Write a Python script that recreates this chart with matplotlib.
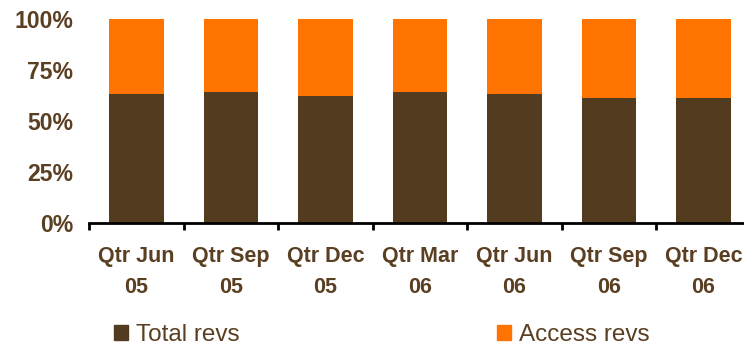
import matplotlib.pyplot as plt
from matplotlib.patches import Patch

# Share of revenue by quarter (%)
quarters = ["Qtr Jun\n05", "Qtr Sep\n05", "Qtr Dec\n05", "Qtr Mar\n06",
            "Qtr Jun\n06", "Qtr Sep\n06", "Qtr Dec\n06"]
total_revs = [63, 64, 62, 64, 63, 61, 61]
access_revs = [100 - v for v in total_revs]

brown = "#533b1f"
orange = "#ff7300"
text_col = "#5a3f22"

plt.rcParams['font.family'] = ['Liberation Sans', 'DejaVu Sans']

fig = plt.figure(figsize=(7.44, 3.46), dpi=100)
ax = fig.add_axes([89.25 / 744, 1 - 222.5 / 346, 661.5 / 744, 203.5 / 346])

x = range(len(quarters))
ax.bar(x, total_revs, width=0.58, color=brown)
ax.bar(x, access_revs, width=0.58, bottom=total_revs, color=orange)

ax.set_xlim(-0.5, 6.5)
ax.set_ylim(0, 100)
ax.set_yticks([0, 25, 50, 75, 100])
ax.set_yticklabels(["0%", "25%", "50%", "75%", "100%"])
ax.tick_params(axis='y', length=0, pad=11.5, labelsize=16.6, labelcolor=text_col)
for t in ax.get_yticklabels():
    t.set_fontweight('bold')

# ticks at category boundaries, labels in the middle
ax.set_xticks([i - 0.5 for i in range(len(quarters) + 1)])
ax.set_xticklabels([])
ax.set_xticks(list(x), minor=True)
ax.set_xticklabels(quarters, minor=True, fontweight='bold', fontsize=15.5,
                   color=text_col, linespacing=1.6)
ax.tick_params(axis='x', which='major', length=5, width=2, direction='out', color='black')
ax.tick_params(axis='x', which='minor', length=0, pad=17)

for side in ['top', 'right', 'left']:
    ax.spines[side].set_visible(False)
ax.spines['bottom'].set_linewidth(2)
ax.spines['bottom'].set_color('black')

handles = [Patch(color=brown, label="Total revs"), Patch(color=orange, label="Access revs")]
fig.legend(handles=handles, loc='center left', bbox_to_anchor=(104 / 744, 1 - 335 / 346),
           ncol=2, frameon=False, fontsize=17.5, handlelength=0.6, handleheight=0.6,
           handletextpad=0.3, columnspacing=10.6, labelcolor=text_col, borderaxespad=0)

fig.savefig("out.png", dpi=100)
